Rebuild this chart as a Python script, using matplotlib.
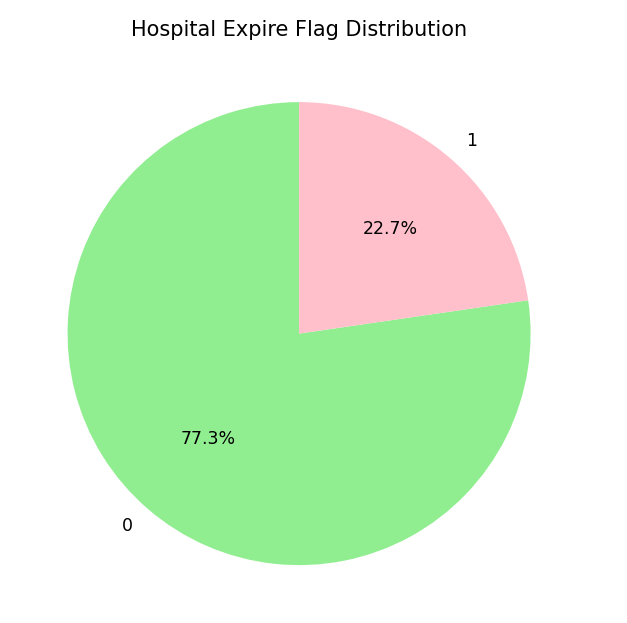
import matplotlib
matplotlib.use("Agg")
import matplotlib.pyplot as plt

labels = ["0", "1"]
shares = [77.3, 22.7]
colors = ["lightgreen", "pink"]

fig = plt.figure(figsize=(627 / 125, 623 / 125), dpi=125)
ax = fig.add_axes([0.015, 0.0, 0.924, 0.929])
ax.pie(shares, labels=labels, colors=colors, autopct="%1.1f%%", startangle=90)
ax.set_title("Hospital Expire Flag Distribution", pad=5)
ax.set_aspect("equal")
fig.savefig("out.png", dpi=125)
